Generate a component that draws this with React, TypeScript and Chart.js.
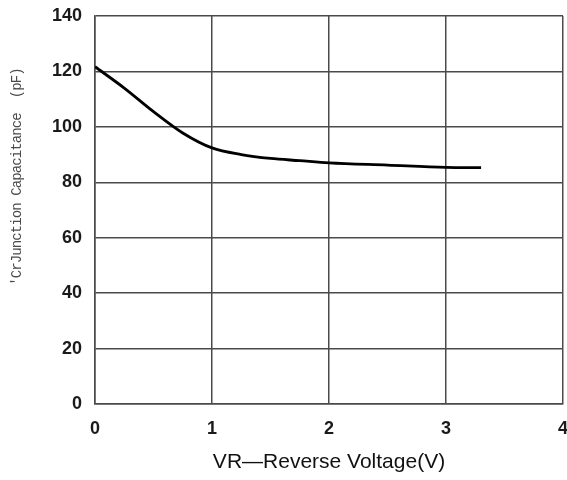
import React, { useEffect, useRef } from "react";
import { Chart, registerables } from "chart.js";

Chart.register(...registerables);

const voltage = [0, 0.25, 0.5, 0.75, 1, 1.25, 1.5, 1.75, 2, 2.5, 3, 3.3];
const capacitance = [121.7, 114, 105.5, 97.8, 92.4, 90, 88.6, 87.8, 87, 86.2, 85.4, 85.3];
const xTitle = "VR—Reverse Voltage(V)";
const yTitle = "'CrJunction Capacitance  (pF)";

const yTitlePlugin = {
  id: "yTitlePlugin",
  afterDraw(chart: any) {
    const ctx = chart.ctx;
    ctx.save();
    ctx.translate(17, 177);
    ctx.rotate(-Math.PI / 2);
    ctx.font = "14px 'Liberation Mono', 'DejaVu Sans Mono', monospace";
    try {
      ctx.letterSpacing = "-0.9px";
    } catch (e) {}
    ctx.fillStyle = "#4a4a4a";
    ctx.textAlign = "center";
    ctx.textBaseline = "middle";
    ctx.fillText(yTitle, 0, 0);
    ctx.restore();
  },
};

export default function App() {
  const ref = useRef<HTMLCanvasElement | null>(null);
  useEffect(() => {
    if (!ref.current) return;
    const gridColor = "#4a4a4a";
    const chart = new Chart(ref.current, {
      type: "line",
      data: {
        datasets: [
          {
            data: voltage.map((v, i) => ({ x: v, y: capacitance[i] })),
            borderColor: "#000",
            borderWidth: 2.8,
            pointRadius: 0,
            cubicInterpolationMode: "monotone",
            fill: false,
          },
        ],
      },
      options: {
        animation: false,
        responsive: true,
        maintainAspectRatio: false,
        layout: { padding: { top: 16, right: 4, left: 0, bottom: 0 } },
        plugins: { legend: { display: false }, tooltip: { enabled: false } },
        scales: {
          x: {
            type: "linear",
            min: 0,
            max: 4,
            ticks: {
              stepSize: 1,
              padding: 14,
              color: "#1a1a1a",
              font: { family: "'Liberation Sans', Arial, sans-serif", size: 18, weight: "bold" },
              maxRotation: 0,
            },
            grid: { color: gridColor, lineWidth: 1.5, drawTicks: false },
            border: { color: gridColor, width: 1.5 },
            title: {
              display: true,
              text: xTitle,
              color: "#111",
              font: { family: "'Liberation Sans', Arial, sans-serif", size: 21, weight: "normal" },
              padding: { top: 0, bottom: 5 },
            },
            afterFit: (scale: any) => {
              scale.height = 76;
              scale.paddingLeft = 0;
              scale.paddingRight = 0;
            },
          },
          y: {
            min: 0,
            max: 140,
            ticks: {
              stepSize: 20,
              padding: 13,
              color: "#1a1a1a",
              font: { family: "'Liberation Sans', Arial, sans-serif", size: 18, weight: "bold" },
            },
            grid: { color: gridColor, lineWidth: 1.5, drawTicks: false },
            border: { color: gridColor, width: 1.5 },
            afterFit: (scale: any) => {
              scale.width = 95;
              scale.paddingTop = 0;
              scale.paddingBottom = 0;
            },
          },
        },
      },
      plugins: [yTitlePlugin],
    } as any);
    return () => chart.destroy();
  }, []);
  return (
    <div style={{ position: "fixed", left: 0, top: 0, width: 567, height: 480, background: "#fff" }}>
      <canvas ref={ref} />
    </div>
  );
}
